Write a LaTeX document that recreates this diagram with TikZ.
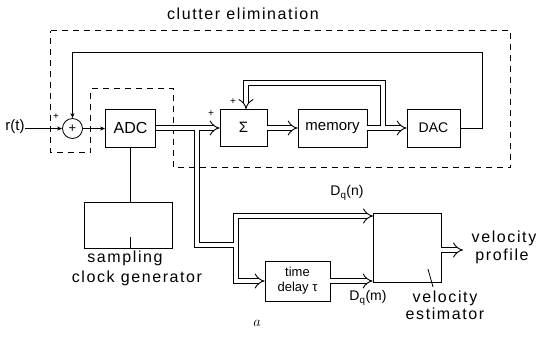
\documentclass[tikz,border=0pt]{standalone}
\usepackage[no-math]{fontspec}
\setmainfont{Liberation Sans}
\newfontfamily\lab[LetterSpace=10]{Liberation Sans}
\usetikzlibrary{arrows.meta}
\begin{document}
\begin{tikzpicture}[x=1pt,y=-1pt,
  box/.style={draw, line width=0.8pt, inner sep=0pt, font=\fontsize{15}{17}\selectfont},
  arr/.style={line width=0.8pt, -{Stealth[length=5pt,width=4pt]}},
  ln/.style={line width=0.8pt},
  busk/.style={line width=6.2pt, black},
  busw/.style={line width=4.4pt, white},
  bustip/.style={line width=0.9pt, double, double distance=4.4pt, -{Implies}},
  dsh/.style={line width=0.8pt, dash pattern=on 6pt off 5pt},
  lbl/.style={font=\lab\fontsize{16}{18}\selectfont, inner sep=0pt},
  sgn/.style={font=\fontsize{10}{10}\selectfont, inner sep=0pt}]
\useasboundingbox (0,0) rectangle (551,338);

% title
\node[lbl] (title) at (243,14) {clutter elimination};

% dashed enclosure
\draw[dsh] (50.5,30.5) -- (510.5,30.5) -- (510.5,167.5) -- (173.5,167.5) -- (173.5,88.5) -- (90.5,88.5) -- (90.5,152.5) -- (50.5,152.5) -- cycle;

% blocks
\node[draw, circle, line width=0.8pt, minimum size=20pt, inner sep=0pt, font=\fontsize{13}{13}\selectfont] (sum) at (72.5,128.5) {+};
\node[box, minimum width=50pt, minimum height=38pt, font=\fontsize{16}{18}\selectfont] (adc) at (130.5,128) {ADC};
\node[box, minimum width=47pt, minimum height=37pt] (sig) at (243.5,127.5) {Σ};
\node[box, minimum width=69pt, minimum height=38pt] (mem) at (332.5,128) {memory};
\node[box, minimum width=53pt, minimum height=38pt, font=\fontsize{14}{16}\selectfont] (dac) at (433.5,128) {DAC};
\node[box, minimum width=88pt, minimum height=46pt] (clk) at (128,225) {};
\node[box, minimum width=65pt, minimum height=40pt, align=center, font=\fontsize{13}{15}\selectfont] (td) at (297.5,281) {time\\delay τ};
\node[box, minimum width=68pt, minimum height=69pt] (ve) at (407,247.5) {};

% helper coordinates
\coordinate (busa) at (208,128);
\coordinate (brA) at (197,128);
\coordinate (brA2) at (197,245);
\coordinate (jA) at (236,245);
\coordinate (tdpre) at (250,281);
\coordinate (dqc) at (236,281);
\coordinate (dqu) at (236,216);
\coordinate (dqpre) at (356,216);
\coordinate (vein) at (373,216);
\coordinate (busb1) at (285,128);
\coordinate (busb2) at (395,128);
\coordinate (brB) at (383,128);
\coordinate (brB2) at (383,83);
\coordinate (brB3) at (246,83);
\coordinate (sigpre) at (246,97);
\coordinate (sigin) at (246,109);
\coordinate (vout) at (463,250);
\coordinate (veout) at (441,250);
\coordinate (fb1) at (482.5,128.5);
\coordinate (fb2) at (482.5,52.5);

% input
\node[lbl, font=\fontsize{15}{17}\selectfont] (rt) at (15,127) {r(t)};
\draw[arr] (rt.east |- sum.west) -- (sum.west);
\draw[arr] (sum.east) -- (adc.west |- sum.east);
\draw[ln] (adc.south -| 130.5,0) -- (clk.north -| 130.5,0);

% feedback
\draw[arr] (dac.east |- fb1) -- (fb1) -- (fb2) -| (sum.north);

% signs
\node[sgn] (p1) at (56,117) {+};
\node[sgn] (p2) at (211,114) {+};
\node[sgn] (p3) at (233,102) {+};

% buses (black pass then white pass)
\foreach \s in {busk,busw}{
  \draw[\s] (adc.east) -- (busa);
  \draw[\s] (brA) -- (brA2) -- (jA);
  \draw[\s] (tdpre) -- (dqc) -- (dqu) -- (dqpre);
  \draw[\s] (sig.east |- busb1) -- (busb1);
  \draw[\s] (mem.east) -- (busb2);
  \draw[\s] (brB) -- (brB2) -- (brB3) -- (sigpre);
}
\draw[bustip] (busa) -- (sig.west |- busa);
\draw[bustip] (tdpre) -- (td.west);
\draw[bustip] (dqpre) -- (vein);
\draw[bustip] (busb1) -- (mem.west);
\draw[bustip] (busb2) -- (dac.west);
\draw[bustip] (sigpre) -- (sigin);

% outputs
\draw[bustip] (td.east) -- (ve.west |- td.east);
\draw[bustip] (veout) -- (vout);

% labels
\node[lbl, font=\fontsize{14}{16}\selectfont] (dqn) at (347,193) {D\textsubscript{q}(n)};
\node[lbl, font=\fontsize{14}{16}\selectfont] (dqm) at (368,298) {D\textsubscript{q}(m)};
\node[lbl] (vp1) at (504,238) {velocity};
\node[lbl] (vp2) at (502,256) {profile};
\node[lbl] (ve1) at (445,298) {velocity};
\node[lbl] (ve2) at (445,314) {estimator};
\node[lbl] (sc1) at (125,258) {sampling};
\node[lbl] (sc2) at (137,278) {clock generator};
\node[inner sep=0pt, font=\fontsize{15}{17}\selectfont] (alab) at (257,323) {$a$};

% leader lines
\draw[ln] (clk.south -| 130.5,0) -- (130.5,237);
\draw[ln] (428,269) -- (433,287);
\end{tikzpicture}
\end{document}
